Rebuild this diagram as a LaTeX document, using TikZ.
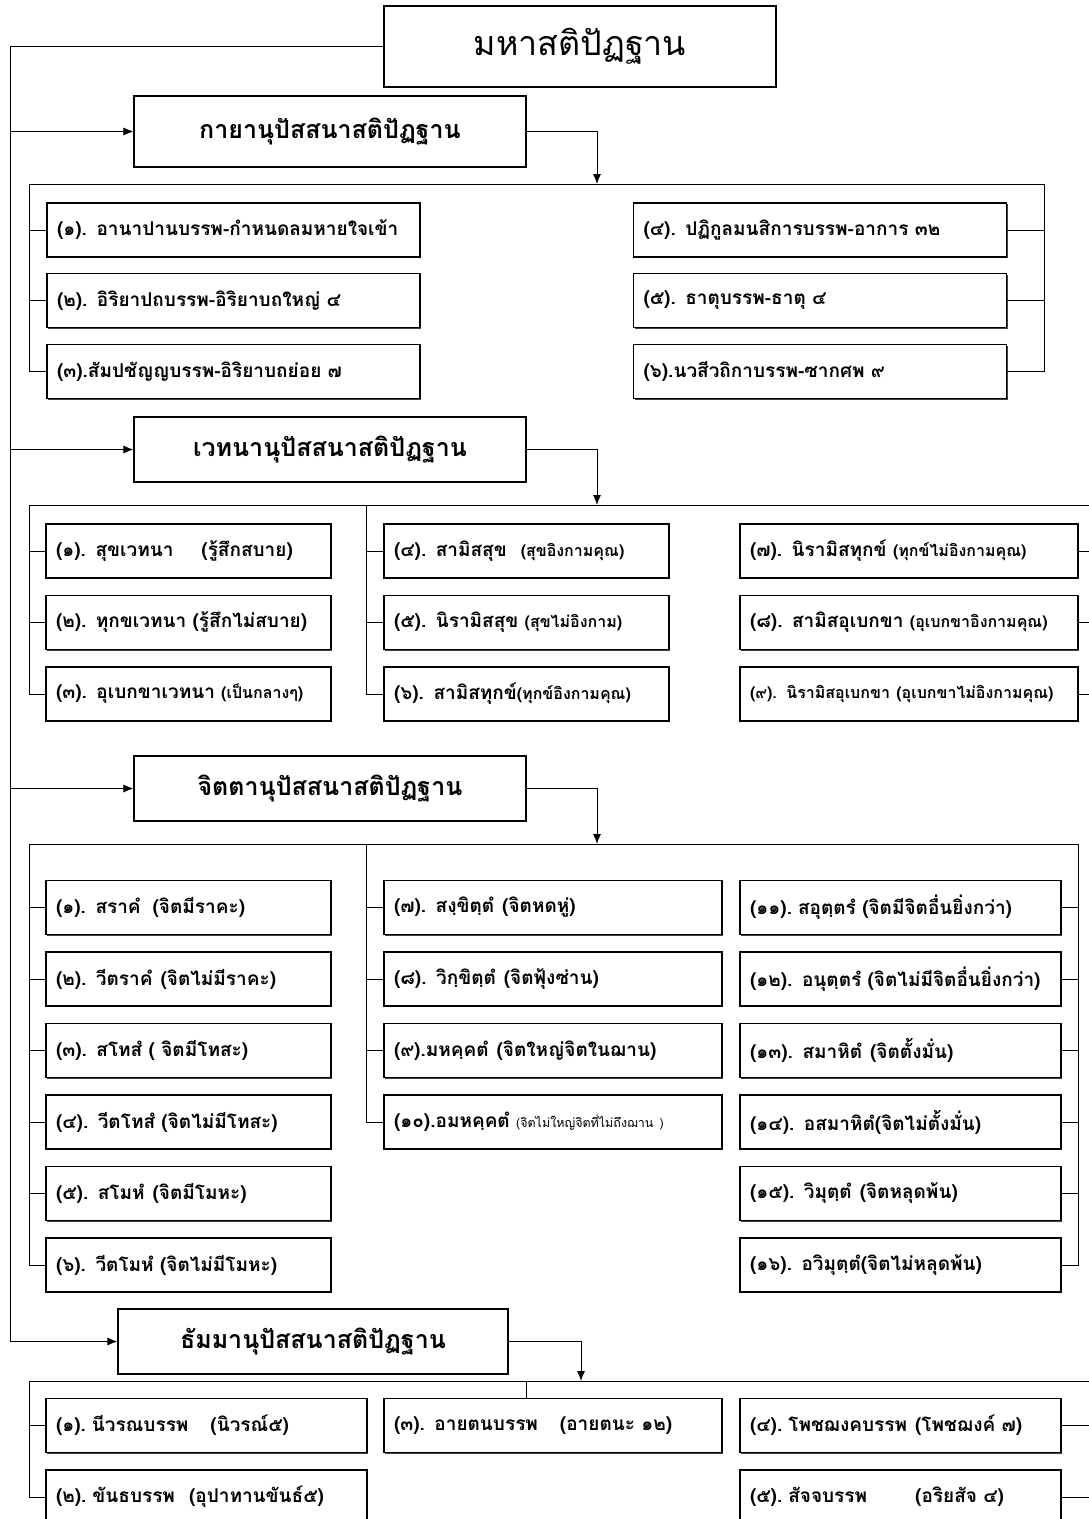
\documentclass[tikz,border=0pt]{standalone}
\usepackage{fontspec}
\newfontfamily\thaifont[Script=Thai]{Loma}
\usetikzlibrary{positioning,arrows.meta,shadows}

\newcommand\sm[1]{{\fontsize{16}{19}\selectfont #1}}

\begin{document}
\begin{tikzpicture}[x=1pt,y=-1pt,line width=1pt,>={Latex[length=10pt,width=8pt]},
	box/.style={draw,fill=white,line width=1.1pt,inner xsep=10pt,inner ysep=0pt,minimum height=54pt,align=left,
		font=\thaifont\bfseries\fontsize{19}{23}\selectfont,
		drop shadow={shadow xshift=1.2pt,shadow yshift=-1.2pt,fill=black!75,opacity=1}},
	head/.style={box,align=center,minimum height=65pt,text width=372pt,font=\thaifont\bfseries\fontsize{25}{30}\selectfont},
	narrow/.style={text width=265pt},
	mid/.style={text width=301pt},
	wide/.style={text width=318pt},
	long/.style={text width=353pt}]

	\path[use as bounding box,fill=white] (0,0) rectangle (1089,1519);

	\node[head,minimum height=81pt,font=\thaifont\fontsize{34}{40}\selectfont] (M) at (580,46.5) {มหาสติปัฏฐาน};
	\node[head,minimum height=71pt] (K) at (330,131.5) {กายานุปัสสนาสติปัฏฐาน};
	\node[head] (V) at (330,449.5) {เวทนานุปัสสนาสติปัฏฐาน};
	\node[head] (C) at (330,788.5) {จิตตานุปัสสนาสติปัฏฐาน};
	\node[head,text width=370pt] (D) at (313,1341.5) {ธัมมานุปัสสนาสติปัฏฐาน};

	\node[box,long] (K1) at (233.5,230) {(๑). อานาปานบรรพ-กำหนดลมหายใจเข้า};
	\node[box,long] (K2) at (233.5,300.5) {(๒). อิริยาปถบรรพ-อิริยาบถใหญ่ ๔};
	\node[box,long] (K3) at (233.5,371.5) {(๓).สัมปชัญญบรรพ-อิริยาบถย่อย ๗};
	\node[box,long] (K4) at (820,230) {(๔). ปฏิกูลมนสิการบรรพ-อาการ ๓๒};
	\node[box,long] (K5) at (820,300.5) {(๕). ธาตุบรรพ-ธาตุ ๔};
	\node[box,long] (K6) at (820,371.5) {(๖).นวสีวถิกาบรรพ-ซากศพ ๙};

	\node[box,narrow] (V1) at (188.5,551) {(๑). สุขเวทนา\hspace{28pt}(รู้สึกสบาย)};
	\node[box,narrow] (V2) at (188.5,622.5) {(๒). ทุกขเวทนา (รู้สึกไม่สบาย)};
	\node[box,narrow] (V3) at (188.5,694) {(๓). อุเบกขาเวทนา \sm{(เป็นกลางๆ)}};
	\node[box,narrow] (V4) at (526.5,551) {(๔). สามิสสุข\hspace{14pt}\sm{(สุขอิงกามคุณ)}};
	\node[box,narrow] (V5) at (526.5,622.5) {(๕). นิรามิสสุข \sm{(สุขไม่อิงกาม)}};
	\node[box,narrow] (V6) at (526.5,694) {(๖). สามิสทุกข์\sm{(ทุกข์อิงกามคุณ)}};
	\node[box,wide] (V7) at (909,551) {(๗). นิรามิสทุกข์ \sm{(ทุกข์ไม่อิงกามคุณ)}};
	\node[box,wide] (V8) at (909,622.5) {(๘). สามิสอุเบกขา \sm{(อุเบกขาอิงกามคุณ)}};
	\node[box,wide] (V9) at (909,694) {\sm{(๙). นิรามิสอุเบกขา (อุเบกขาไม่อิงกามคุณ)}};

	\node[box,narrow] (C1) at (188.5,907.5) {(๑). สราคํ\hspace{12pt}(จิตมีราคะ)};
	\node[box,narrow] (C2) at (188.5,979) {(๒). วีตราคํ\hspace{8pt}(จิตไม่มีราคะ)};
	\node[box,narrow] (C3) at (188.5,1050.5) {(๓). สโทสํ ( จิตมีโทสะ)};
	\node[box,narrow] (C4) at (188.5,1122) {(๔). วีตโทสํ (จิตไม่มีโทสะ)};
	\node[box,narrow] (C5) at (188.5,1193.5) {(๕). สโมหํ\hspace{8pt}(จิตมีโมหะ)};
	\node[box,narrow] (C6) at (188.5,1265) {(๖). วีตโมหํ (จิตไม่มีโมหะ)};
	\node[box,wide] (C7) at (553,907.5) {(๗). สงฺขิตฺตํ\hspace{8pt}(จิตหดหู่)};
	\node[box,wide] (C8) at (553,979) {(๘). วิกฺขิตฺตํ\hspace{8pt}(จิตฟุ้งซ่าน)};
	\node[box,wide] (C9) at (553,1050.5) {(๙).มหคฺคตํ\hspace{8pt}(จิตใหญ่จิตในฌาน)};
	\node[box,wide] (C10) at (553,1122) {(๑๐).อมหคฺคตํ {\mdseries\fontsize{12.5}{15}\selectfont(จิตไม่ใหญ่จิตที่ไม่ถึงฌาน )}};
	\node[box,mid] (C11) at (900.5,907.5) {(๑๑).\hspace{6pt}สอุตฺตรํ (จิตมีจิตอื่นยิ่งกว่า)};
	\node[box,mid] (C12) at (900.5,979) {(๑๒). อนุตฺตรํ (จิตไม่มีจิตอื่นยิ่งกว่า)};
	\node[box,mid] (C13) at (900.5,1050.5) {(๑๓). สมาหิตํ\hspace{8pt}(จิตตั้งมั่น)};
	\node[box,mid] (C14) at (900.5,1122) {(๑๔). อสมาหิตํ(จิตไม่ตั้งมั่น)};
	\node[box,mid] (C15) at (900.5,1193.5) {(๑๕). วิมุตฺตํ\hspace{8pt}(จิตหลุดพ้น)};
	\node[box,mid] (C16) at (900.5,1265) {(๑๖). อวิมุตฺตํ(จิตไม่หลุดพ้น)};

	\node[box,mid] (D1) at (206.5,1425.5) {(๑).\hspace{6pt}นีวรณบรรพ\hspace{22pt}(นิวรณ์๕)};
	\node[box,mid] (D2) at (206.5,1497) {(๒).\hspace{6pt}ขันธบรรพ\hspace{14pt}(อุปาทานขันธ์๕)};
	\node[box,wide] (D3) at (553,1425.5) {(๓). อายตนบรรพ\hspace{22pt}(อายตนะ ๑๒)};
	\node[box,mid] (D4) at (900.5,1425.5) {(๔).\hspace{6pt}โพชฌงคบรรพ\hspace{8pt}(โพชฌงค์ ๗)};
	\node[box,mid] (D5) at (900.5,1497) {(๕).\hspace{6pt}สัจจบรรพ\hspace{48pt}(อริยสัจ ๔)};

	\coordinate (T0) at (10,46.5);
	\coordinate (T1) at (10,1341.5);
	\draw (M.west) -- (T0) -- (T1);
	\draw[->] (T0 |- K.west) -- (K.west);
	\draw[->] (T0 |- V.west) -- (V.west);
	\draw[->] (T0 |- C.west) -- (C.west);
	\draw[->] (T1) -- (D.west);

	\coordinate (G1) at (597,184);
	\coordinate (G1l) at (29,184);
	\coordinate (G1r) at (1044,184);
	\draw[->] (K.east) -| (G1);
	\draw (G1l) -- (G1r);
	\foreach \n in {K1,K2,K3} \draw (G1l) |- (\n.west);
	\foreach \n in {K4,K5,K6} \draw (G1r) |- (\n.east);

	\coordinate (G2) at (597,505);
	\coordinate (G2l) at (29,505);
	\coordinate (G2m) at (366,505);
	\coordinate (G2r) at (1095,505);
	\draw[->] (V.east) -| (G2);
	\draw (G2l) -- (G2r);
	\foreach \n in {V1,V2,V3} \draw (G2l) |- (\n.west);
	\foreach \n in {V4,V5,V6} \draw (G2m) |- (\n.west);
	\foreach \n in {V7,V8,V9} \draw (G2r) |- (\n.east);

	\coordinate (G3) at (597,844);
	\coordinate (G3l) at (29,844);
	\coordinate (G3m) at (366,844);
	\coordinate (G3r) at (1078,844);
	\draw[->] (C.east) -| (G3);
	\draw (G3l) -- (G3r);
	\foreach \n in {C1,C2,C3,C4,C5,C6} \draw (G3l) |- (\n.west);
	\foreach \n in {C7,C8,C9,C10} \draw (G3m) |- (\n.west);
	\foreach \n in {C11,C12,C13,C14,C15,C16} \draw (G3r) |- (\n.east);

	\coordinate (G5) at (581,1381);
	\coordinate (G5l) at (29,1381);
	\coordinate (G5m) at (526,1381);
	\coordinate (G5r) at (1095,1381);
	\draw[->] (D.east) -| (G5);
	\draw (G5l) -- (G5r);
	\foreach \n in {D1,D2} \draw (G5l) |- (\n.west);
	\draw (G5m) -- (G5m |- D3.north);
	\foreach \n in {D4,D5} \draw (G5r) |- (\n.east);
\end{tikzpicture}
\end{document}
